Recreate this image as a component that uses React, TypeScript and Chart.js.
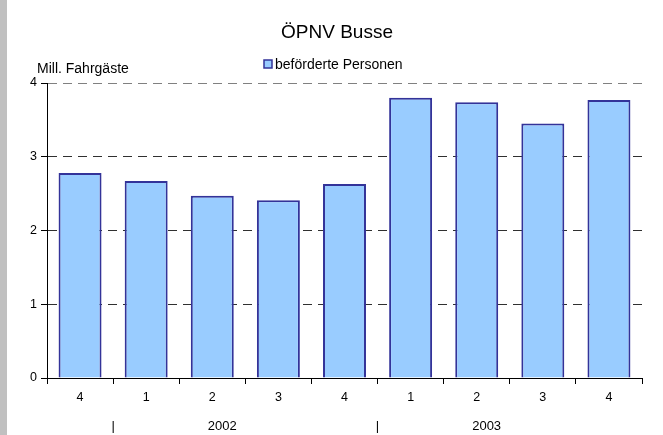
import React, { useEffect, useRef } from "react";
import { Chart, registerables } from "chart.js";

Chart.register(...registerables);

const chartTitle = "ÖPNV Busse";
const yAxisTitle = "Mill. Fahrgäste";
const seriesName = "beförderte Personen";
const quarterLabels = ["4", "1", "2", "3", "4", "1", "2", "3", "4"];
const passengers = [2.78, 2.67, 2.47, 2.41, 2.63, 3.8, 3.74, 3.45, 3.77];
const yearLabels = ["2002", "2003"];
const yearStartIndex = [1, 5];
const yMin = 0;
const yMax = 4;
const yStep = 1;

const FONT = "'Liberation Sans', Arial, sans-serif";
const BAR_FILL = "#99ccff";
const BAR_EDGE = "#333399";

const decorPlugin = {
  id: "decor",
  beforeDraw(chart: any) {
    const { ctx, width, height } = chart;
    ctx.save();
    ctx.fillStyle = "#ffffff";
    ctx.fillRect(0, 0, width, height);
    ctx.fillStyle = "#c0c0c0";
    ctx.fillRect(0, 0, 7, height);
    ctx.restore();
  },
  afterDraw(chart: any) {
    const { ctx } = chart;
    const xs = chart.scales.x;
    ctx.save();
    ctx.fillStyle = "#000";
    ctx.textBaseline = "middle";
    // title
    ctx.font = `19px ${FONT}`;
    ctx.textAlign = "center";
    ctx.fillText(chartTitle, 337, 33);
    // y-axis caption
    ctx.font = `14px ${FONT}`;
    ctx.textAlign = "left";
    ctx.fillText(yAxisTitle, 37, 69);
    // legend
    ctx.fillStyle = BAR_FILL;
    ctx.fillRect(264, 60, 8, 8);
    ctx.strokeStyle = BAR_EDGE;
    ctx.lineWidth = 1.5;
    ctx.strokeRect(264, 60, 8, 8);
    ctx.fillStyle = "#000";
    ctx.font = `14px ${FONT}`;
    ctx.fillText(chart.data.datasets[0].label, 275, 65);
    // year labels
    const catW = (xs.right - xs.left) / chart.data.labels.length;
    ctx.font = `13px ${FONT}`;
    yearLabels.forEach((yl, i) => {
      const start = yearStartIndex[i];
      const bx = xs.getPixelForValue(start) - catW / 2;
      ctx.textAlign = "center";
      ctx.fillText("|", bx, 426);
      ctx.fillText(yl, xs.getPixelForValue(start) + 1.15 * catW, 426);
    });
    ctx.restore();
  },
};

export default function App() {
  const ref = useRef<HTMLCanvasElement | null>(null);
  useEffect(() => {
    if (!ref.current) return;
    const chart = new Chart(ref.current, {
      type: "bar",
      data: {
        labels: quarterLabels,
        datasets: [
          {
            label: seriesName,
            data: passengers,
            backgroundColor: BAR_FILL,
            borderColor: BAR_EDGE,
            borderWidth: 2,
            barPercentage: 0.65,
            categoryPercentage: 1,
          },
        ],
      },
      options: {
        animation: false,
        responsive: false,
        maintainAspectRatio: false,
        devicePixelRatio: 1,
        layout: { padding: { top: 83, right: 21, bottom: 0, left: 0 } },
        plugins: {
          legend: { display: false },
          title: { display: false },
          tooltip: { enabled: false },
        },
        scales: {
          x: {
            offset: true,
            grid: {
              offset: true,
              drawOnChartArea: false,
              drawTicks: true,
              tickLength: 6,
              color: "#000",
              tickColor: "#000",
            },
            border: { display: true, color: "#000", width: 1 },
            ticks: { color: "#000", font: { family: FONT, size: 12.5 }, padding: 6, maxRotation: 0, autoSkip: false },
            afterFit: (s: any) => {
              s.height = 57;
            },
          },
          y: {
            min: yMin,
            max: yMax,
            ticks: { stepSize: yStep, color: "#000", font: { family: FONT, size: 12.5 }, padding: 4 },
            grid: {
              drawTicks: true,
              tickLength: 6,
              tickColor: "#000",
              lineWidth: 1,
              color: (c: any) =>
                c.tick && c.tick.value === yMin ? "rgba(0,0,0,0)" : c.tick && c.tick.value === yMax ? "#808080" : "#303030",
            },
            border: { display: true, color: "#000", width: 1, dash: [9, 6] },
            afterFit: (s: any) => {
              s.width = 47;
            },
          },
        },
      },
      plugins: [decorPlugin],
    });
    return () => chart.destroy();
  }, []);
  return (
    <div style={{ position: "fixed", left: 0, top: 0, width: 663, height: 435 }}>
      <canvas ref={ref} width={663} height={435} style={{ display: "block", width: 663, height: 435 }} />
    </div>
  );
}
